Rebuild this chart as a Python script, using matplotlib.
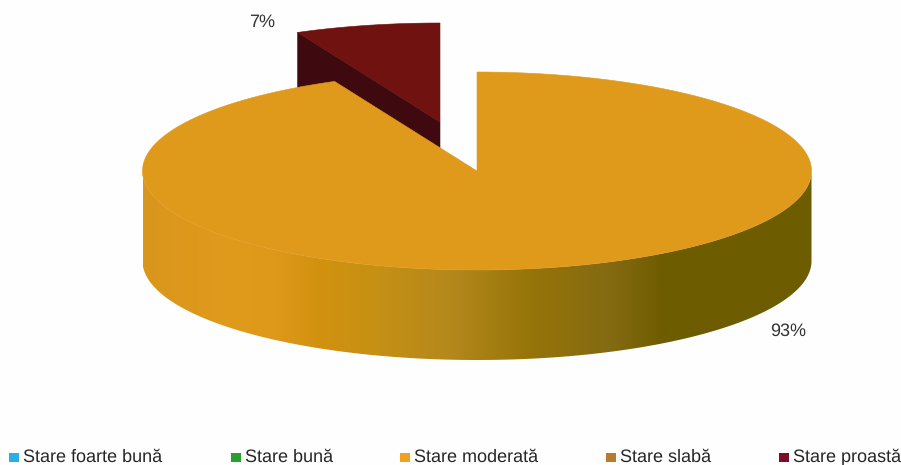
import matplotlib
matplotlib.use('Agg')
import matplotlib.pyplot as plt
from matplotlib.colors import LinearSegmentedColormap
from matplotlib.patches import Polygon, Rectangle
import numpy as np

categories = ['Stare foarte bună', 'Stare bună', 'Stare moderată', 'Stare slabă', 'Stare proastă']
shares = [0, 0, 93, 0, 7]
share_labels = ['7%', '93%']
legend_colors = ['#2aaee8', '#2a9e30', '#f0a020', '#b97a2c', '#7c0d26']

# pie geometry, in pixels
cx, cy = 477, 171
rx, ry = 334.5, 99
depth = 90
explode_x, explode_y = -37, -49

TOP_COLOR = '#e09a1b'
CUT_TOP = '#6f1210'
CUT_DARK = '#3e0a10'

plt.rcParams['font.family'] = ['Liberation Sans', 'DejaVu Sans']
plt.rcParams['text.hinting'] = 'no_hinting'
plt.rcParams['text.hinting_factor'] = 1

fig = plt.figure(figsize=(9.01, 4.65), dpi=100, facecolor='#fefefe')
ax = fig.add_axes([0, 0, 1, 1])
ax.axis('off')


def ellipse_points(start_deg, end_deg, dx=0, dy=0):
    # angles run clockwise from twelve o'clock
    t = np.radians(np.linspace(start_deg, end_deg, 400))
    return np.column_stack([cx + dx + rx * np.sin(t), cy + dy - ry * np.cos(t)])


moderate_end = 360 * shares[2] / sum(shares)

# exploded small slice: dark cut face first, the top face overlaps its edge
small_top = ellipse_points(moderate_end, 360, explode_x, explode_y)
apex = np.array([cx + explode_x, cy + explode_y])
corner = small_top[0]
cut_face = [corner, apex, apex + [0, depth], corner + [0, depth]]
ax.add_patch(Polygon(cut_face, closed=True, fc=CUT_DARK, ec=CUT_DARK, lw=0.4, zorder=1))
ax.add_patch(Polygon(np.vstack([apex, small_top]), closed=True, fc=CUT_TOP, ec=CUT_TOP, lw=0.4, zorder=2))

# side wall of the large slice, shaded from left to right
front_top = ellipse_points(270, 90)
front_bottom = ellipse_points(90, 270, 0, depth)
wall = Polygon(np.vstack([front_top, front_bottom]), closed=True, fc='none', ec='none', zorder=3)
ax.add_patch(wall)
stops = [(0.0, '#d8961c'), (0.04, '#dc981c'), (0.12, '#e09a1c'), (0.20, '#de981a'), (0.26, '#d2920e'),
         (0.36, '#c49014'), (0.46, '#b4881c'), (0.58, '#967408'), (0.70, '#846a12'),
         (0.78, '#6e5c00'), (1.0, '#6e5c00')]
shade = LinearSegmentedColormap.from_list('wall', stops, N=256)
img = ax.imshow(np.linspace(0, 1, 256).reshape(1, -1), cmap=shade, aspect='auto',
                extent=(cx - rx, cx + rx, cy + ry + depth, cy), zorder=3)
img.set_clip_path(wall)
ax.set_xlim(0, 901)
ax.set_ylim(465, 0)

# top face of the large slice
large_top = ellipse_points(0, moderate_end)
ax.add_patch(Polygon(np.vstack([[cx, cy], large_top]), closed=True, fc=TOP_COLOR, ec=TOP_COLOR, lw=0.4, zorder=4))

ax.text(262, 22, share_labels[0], ha='center', va='center', fontsize=13, color='#333333')
ax.text(788, 331, share_labels[1], ha='center', va='center', fontsize=13, color='#333333')

# legend row along the bottom
swatch_x = [9, 231, 400, 606, 779]
for name, color, x in zip(categories, legend_colors, swatch_x):
    ax.add_patch(Rectangle((x, 452.5), 10, 9.5, fc=color, ec='none'))
    ax.text(x + 14, 457.5, name, ha='left', va='center', fontsize=13.2, color='#262626')

fig.savefig('out.png', dpi=100, facecolor=fig.get_facecolor())
